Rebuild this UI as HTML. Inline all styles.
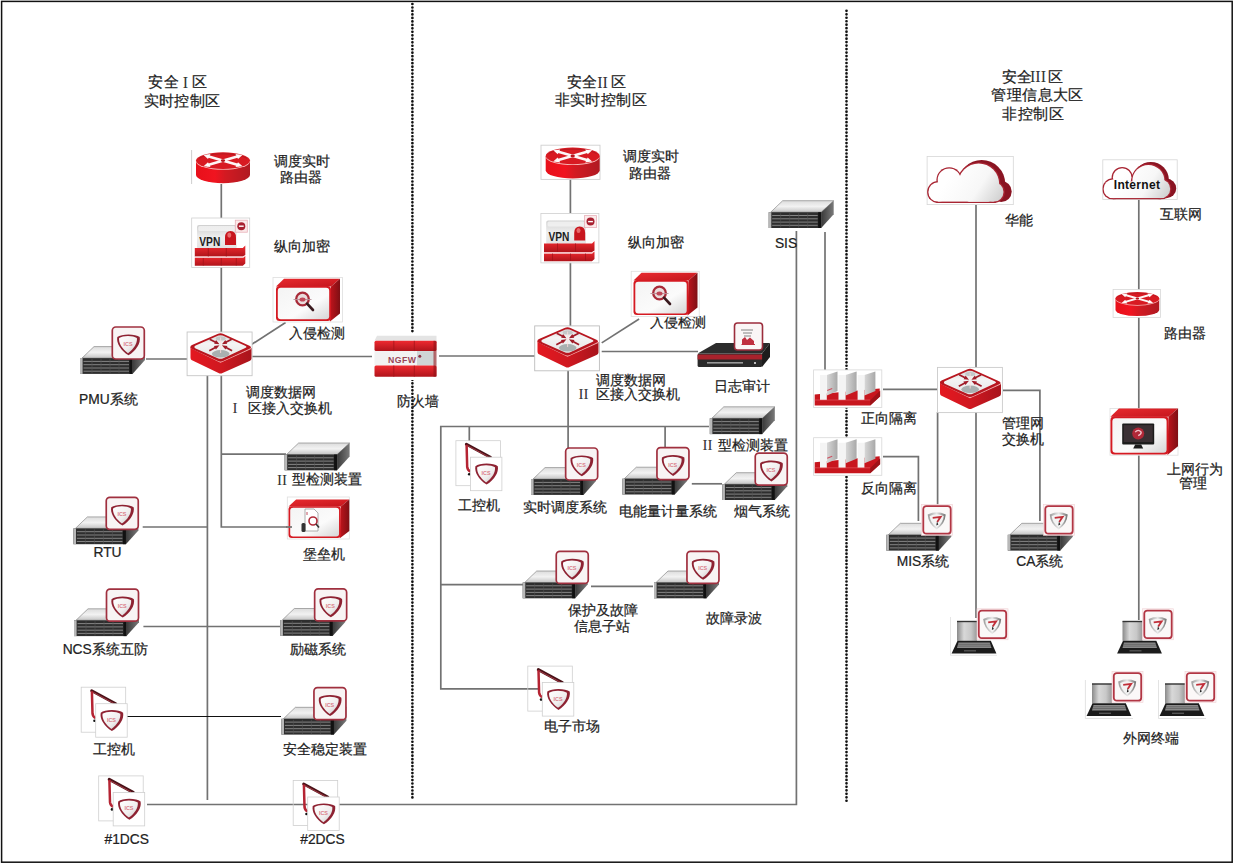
<!DOCTYPE html>
<html><head><meta charset="utf-8"><title>安全分区网络拓扑</title>
<style>
html,body{margin:0;padding:0;background:#fff;}
body{width:1234px;height:864px;overflow:hidden;font-family:"Liberation Sans", sans-serif;}
svg{display:block;}
svg text{font-family:"Liberation Sans", sans-serif;}
.lb{stroke:#222;stroke-width:0.22px;}
</style></head><body>
<svg width="1234" height="864" viewBox="0 0 1234 864">
<defs>
<linearGradient id="gRed" x1="0" y1="0" x2="1" y2="0">
 <stop offset="0" stop-color="#e5161e"/><stop offset="0.55" stop-color="#d01820"/><stop offset="1" stop-color="#a5141a"/></linearGradient>
<linearGradient id="gRedV" x1="0" y1="0" x2="0" y2="1">
 <stop offset="0" stop-color="#ee2a30"/><stop offset="1" stop-color="#b0141b"/></linearGradient>
<linearGradient id="gRedTop" x1="0" y1="0" x2="1" y2="1">
 <stop offset="0" stop-color="#e82a2f"/><stop offset="1" stop-color="#c4161d"/></linearGradient>
<linearGradient id="gDarkRed" x1="0" y1="0" x2="1" y2="0">
 <stop offset="0" stop-color="#c0141c"/><stop offset="1" stop-color="#7e0f14"/></linearGradient>
<linearGradient id="gSrvTop" x1="0" y1="0" x2="0" y2="1">
 <stop offset="0" stop-color="#dcdcdc"/><stop offset="0.5" stop-color="#f2f2f2"/><stop offset="1" stop-color="#c4c4c4"/></linearGradient>
<linearGradient id="gSrvSide" x1="0" y1="0" x2="1" y2="0">
 <stop offset="0" stop-color="#3a3a3a"/><stop offset="1" stop-color="#7a7a7a"/></linearGradient>
<linearGradient id="gFace" x1="0" y1="0" x2="1" y2="1">
 <stop offset="0" stop-color="#f4f4f4"/><stop offset="0.6" stop-color="#fbfbfb"/><stop offset="1" stop-color="#d6d6d6"/></linearGradient>
<linearGradient id="gCard" x1="0" y1="0" x2="0" y2="1">
 <stop offset="0" stop-color="#d0d0d0"/><stop offset="0.5" stop-color="#eeeeee"/><stop offset="1" stop-color="#e2e2e2"/></linearGradient>
<linearGradient id="gShieldIn" x1="0" y1="0" x2="1" y2="1">
 <stop offset="0" stop-color="#ffffff"/><stop offset="0.6" stop-color="#f0eeee"/><stop offset="1" stop-color="#c8c4c4"/></linearGradient>
<linearGradient id="gScreen" x1="0" y1="0" x2="1" y2="0">
 <stop offset="0" stop-color="#8a8a8a"/><stop offset="0.35" stop-color="#d8d8d8"/><stop offset="0.7" stop-color="#c8c8c8"/><stop offset="1" stop-color="#9a9a9a"/></linearGradient>
<linearGradient id="gPillar" x1="0" y1="0" x2="1" y2="0">
 <stop offset="0" stop-color="#d8d8d8"/><stop offset="1" stop-color="#a8a8a8"/></linearGradient>
<linearGradient id="gCloud" x1="0" y1="0" x2="1" y2="1">
 <stop offset="0" stop-color="#ffffff"/><stop offset="0.6" stop-color="#f8f8f8"/><stop offset="1" stop-color="#d0d0d0"/></linearGradient>
<linearGradient id="gSilver" x1="0" y1="0" x2="1" y2="0">
 <stop offset="0" stop-color="#9a9a9a"/><stop offset="0.5" stop-color="#e8e8e8"/><stop offset="1" stop-color="#707070"/></linearGradient>

<linearGradient id="gRouterSide" x1="0" y1="0" x2="1" y2="0">
 <stop offset="0" stop-color="#e8101a"/><stop offset="0.35" stop-color="#f01420"/><stop offset="0.55" stop-color="#d21a22"/><stop offset="1" stop-color="#b01a22"/></linearGradient>
<g id="router">
 <path d="M0,8.3 L0,22.6 A27,8.3 0 0 0 54,22.6 L54,8.3 Z" fill="url(#gRouterSide)"/>
 <ellipse cx="27" cy="9.2" rx="27" ry="8.3" fill="#f7b4b4"/>
 <ellipse cx="27" cy="8.3" rx="27" ry="8.3" fill="#d81a22"/>
 <path d="M3,6 A27,8.3 0 0 1 51,6" fill="none" stroke="#9a1820" stroke-width="0.8" opacity="0.7"/>
 <g stroke="#fff" stroke-width="2.6" opacity="0.96">
  <path d="M11,3.6 L43,13"/><path d="M11,13 L43,3.6"/>
 </g>
 <g fill="#fff" opacity="0.96">
  <path d="M7.5,2.6 L14.5,1.8 L12,6.6 Z"/><path d="M46.5,14 L39.5,14.8 L42,10 Z"/>
  <path d="M46.5,2.6 L39.5,1.8 L42,6.6 Z"/><path d="M7.5,14 L14.5,14.8 L12,10 Z"/>
 </g>
 <ellipse cx="27" cy="8.3" rx="2.2" ry="1.4" fill="#b8141c"/>
</g>
<linearGradient id="gSwSide" x1="0" y1="0" x2="1" y2="0">
 <stop offset="0" stop-color="#e41820"/><stop offset="0.5" stop-color="#d01820"/><stop offset="1" stop-color="#a8141c"/></linearGradient>
<linearGradient id="gSwIn" x1="0" y1="0" x2="0" y2="1">
 <stop offset="0" stop-color="#d8d8d8"/><stop offset="0.35" stop-color="#f4f4f4"/><stop offset="1" stop-color="#e6e6e6"/></linearGradient>
<g id="switch">
 <path d="M1,14 L31,28.5 L62,15 L62,25.5 Q62,27 60,28 L33,40 Q31,41 29,40 L2,27 Q1,26 1,24.5 Z" fill="url(#gSwSide)"/>
 <path d="M1.5,14.8 L31,29.2 L61.5,15.6" fill="none" stroke="#f7b0b0" stroke-width="1.1"/>
 <path d="M1,14 Q0.5,13 2.5,12 L28,0.9 Q31,-0.2 34,0.9 L60.5,13 Q62.5,14.3 60.5,15.6 L34,27.8 Q31,29 28,27.8 L2.5,16 Q0.5,15 1,14 Z" fill="#b8161f"/>
 <path d="M5,14 Q4.5,13.2 6.2,12.4 L28.8,2.6 Q31,1.8 33.2,2.6 L56.2,13 Q58,13.9 56.2,14.8 L33.2,25.4 Q31,26.3 28.8,25.4 L6.2,15.6 Q4.5,14.8 5,14 Z" fill="url(#gSwIn)"/>
 <ellipse cx="31.2" cy="20.8" rx="8.8" ry="3.7" fill="#a9b0b0"/>
 <ellipse cx="31.2" cy="5.6" rx="5" ry="2" fill="#c4c8c8"/>
 <g fill="#a01c28">
  <path d="M19.80,7.10 L25.19,9.80 L24.65,10.87 L30.00,11.20 L26.53,7.12 L25.99,8.19 L20.60,5.50 Z"/>
  <path d="M20.23,18.59 L25.84,15.51 L26.42,16.56 L30.00,12.20 L24.40,12.88 L24.98,13.93 L19.37,17.01 Z"/>
  <path d="M41.80,5.50 L36.41,8.19 L35.87,7.12 L32.40,11.20 L37.75,10.87 L37.21,9.80 L42.60,7.10 Z"/>
  <path d="M43.03,17.01 L37.42,13.93 L38.00,12.88 L32.40,12.20 L35.98,16.56 L36.56,15.51 L42.17,18.59 Z"/>
 </g>
 <path d="M31.15,4.5 V20" stroke="#ffdede" stroke-width="0.9" opacity="0.9"/>
</g>
<g id="server">
 <path d="M2,12 L14,0.5 L65,0.5 L52.5,12 Z" fill="url(#gSrvTop)" stroke="#777" stroke-width="0.6"/>
 <path d="M52.5,12 L65,0.5 L65,14 L52.5,27.8 Z" fill="url(#gSrvSide)"/>
 <rect x="0" y="12" width="52.5" height="15.8" fill="#2e2e2e"/>
 <rect x="0" y="12" width="2.6" height="15.8" fill="#b8b8b8"/>
 <rect x="49.5" y="12" width="3" height="15.8" fill="#111"/>
 <g stroke="#9a9a9a" stroke-width="0.8">
  <path d="M3.5,15.3 H49 M3.5,18.6 H49 M3.5,21.9 H49 M3.5,25.1 H49"/>
 </g>
 <g stroke="#555" stroke-width="0.6">
  <path d="M12,13 V27.3 M21,13 V27.3 M30,13 V27.3 M39,13 V27.3"/>
 </g>
</g>
<g id="shieldics">
 <path d="M0,3.5 C4,0 18.4,0 22.4,3.5 C23.6,9.5 19,17 11.2,21.8 C3.4,17 -1.2,9.5 0,3.5 Z" fill="#8e2232"/>
 <path d="M1.8,4.6 C5.6,1.9 15.8,1.9 19.6,4.6 C20.2,9.6 16.6,15.6 10.7,19.7 C4.8,15.6 1.2,9.6 1.8,4.6 Z" fill="url(#gShieldIn)"/>
 <text x="10.7" y="12.6" font-size="5.4" opacity="0.7" font-family='"Liberation Sans", sans-serif' font-weight="bold" fill="#d04a5a" text-anchor="middle">ICS</text>
</g>
<g id="badge">
 <rect x="1" y="1" width="32" height="32" rx="3.5" fill="#f8f4f4" stroke="#a0303f" stroke-width="1.7"/>
 <use href="#shieldics" x="6" y="7.5"/>
</g>
<g id="shieldsec">
 <path d="M0,3 Q9,-1.5 18,3 Q17.5,12 9,18 Q0.5,12 0,3 Z" fill="url(#gSilver)"/>
 <path d="M2,4.3 Q9,1.2 16,4.3 Q15.5,11 9,15.8 Q2.5,11 2,4.3 Z" fill="#f4f4f4"/>
 <path d="M5,6.2 L13,5.2 L9.5,10.5" fill="none" stroke="#c0303a" stroke-width="1.8"/>
 <path d="M9.3,10 L8.6,13.8 L10.6,13" fill="#222"/>
</g>
<g id="badge2">
 <rect x="0" y="0" width="31" height="31" fill="#fbf3f4" stroke="#f0d0d4" stroke-width="0.6"/>
 <rect x="1.8" y="1.8" width="27.4" height="27.6" rx="3" fill="#fbf8f8" stroke="#b23644" stroke-width="1.8"/>
 <use href="#shieldsec" x="6.2" y="7.3"/>
</g>
<g id="ws">
 <rect x="0.5" y="0.5" width="44.5" height="45" fill="none" stroke="#cfcfcf" stroke-width="0.8"/>
 <path d="M11,4 L35,17" stroke="#4a1218" stroke-width="3" stroke-linecap="round"/>
 <path d="M12.5,5.6 L33,16.6" stroke="#c84a58" stroke-width="0.7"/>
 <path d="M11.2,4.5 L11.8,27 Q12.2,30 15,31.5" fill="none" stroke="#b52433" stroke-width="2.5"/>
 <circle cx="13.8" cy="34" r="1.3" fill="#111"/>
 <rect x="15" y="17" width="31.5" height="33.5" fill="#fff" stroke="#cfcfcf" stroke-width="0.8"/>
 <use href="#shieldics" x="20" y="22.5"/>
</g>
<g id="fw">
 <path d="M0,4.6 L2.5,-0.5 L62,-0.5 L62,4.6 Z" fill="#e4e4e4"/>
 <rect x="0" y="4.6" width="62" height="10.3" rx="1.5" fill="url(#gRedV)"/>
 <rect x="0" y="14.9" width="62" height="14.4" fill="#f2f2f2"/>
 <rect x="42.5" y="14.9" width="17.5" height="14.4" fill="#cfd5d5"/>
 <rect x="0" y="29.3" width="62" height="11.2" rx="1.5" fill="url(#gRedV)"/>
 <rect x="59" y="4.6" width="3" height="36" fill="#8e1218" opacity="0.6"/>
 <g stroke="#a31419" stroke-width="0.8"><path d="M19.3,4.6 V14.9 M39.8,4.6 V14.9 M19.3,29.3 V40.5 M39.8,29.3 V40.5"/></g>
 <text x="13.5" y="26.6" font-size="8.7" font-weight="bold" fill="#9a4456" letter-spacing="0.5">NGFW</text>
 <circle cx="45.3" cy="20" r="1.5" fill="#8e3244"/>
</g>
<g id="box">
 <path d="M3,9 L11,1.3 L67,1.3 L58,9 Z" fill="url(#gRedTop)"/>
 <path d="M58,9 L67,1.3 L67,36 L57,44 Z" fill="url(#gDarkRed)"/>
 <rect x="3" y="8.6" width="55" height="35" rx="3.5" fill="#d51a22"/>
 <rect x="4.8" y="10.3" width="51.4" height="31.6" rx="3" fill="url(#gFace)"/>
</g>
<g id="magnifier">
 <circle cx="0" cy="0" r="6.3" fill="#eadcdc" stroke="#a82a38" stroke-width="2.3"/>
 <path d="M4.6,4.6 L10.5,11" stroke="#3a1a1e" stroke-width="2.6" stroke-linecap="round"/>
 <path d="M-9,0.5 H9" stroke="#b89098" stroke-width="0.9"/>
 <ellipse cx="0" cy="0.5" rx="3" ry="2" fill="#c04858"/>
</g>
<g id="logdev">
 <path d="M0.6,31.5 L19,21 L73,21 L65,31.5 Z" fill="#2c2c2c"/>
 <path d="M65,31.5 L73,21 L73,35 L65,45 Z" fill="#1c1c1c"/>
 <rect x="0.6" y="31.5" width="64.5" height="13.5" rx="1.5" fill="#2a2a2a"/>
 <rect x="0.6" y="32.5" width="64.5" height="5" fill="#a8222c"/>
 <rect x="10" y="40" width="36" height="1.6" fill="#9a9a9a"/>
 <circle cx="58" cy="41" r="1" fill="#eee"/>
 <rect x="37.5" y="1" width="28" height="27" rx="3" fill="#faf6f6" stroke="#9c2d3c" stroke-width="1.6"/>
 <g stroke="#777" stroke-width="0.9"><path d="M44,8 H56 M46,11 H55 M47,14 H54"/></g>
 <path d="M45,22 V17.5 L48,15 L50,18 L53,15.5 L57,19 V22 Z" fill="#c03040"/>
 <path d="M44.5,22.5 H58" stroke="#c03040" stroke-width="1"/>
</g>
<g id="iso">
 <rect x="0.4" y="0.4" width="68.2" height="37.6" fill="#fff" stroke="#d8d8d8" stroke-width="0.8"/>
 <path d="M1.5,30.5 L1.5,25 L66.5,19 L66.5,27 L57,36 L1.5,36 Z" fill="#c8161e"/>
 <path d="M57,31 L67,21 L67,27 L57,36 Z" fill="#9e1218"/>
 <g>
  <path d="M13.6,5.5 L24.3,2 L24.3,21.5 L13.6,26 Z" fill="url(#gPillar)"/>
  <rect x="6.8" y="5.5" width="6.8" height="25" fill="#f4f4f4"/>
  <path d="M32.4,5.5 L43.4,2 L43.4,21.5 L32.4,26 Z" fill="url(#gPillar)"/>
  <rect x="25.3" y="5.5" width="7.1" height="25" fill="#f4f4f4"/>
  <path d="M51.2,5.5 L62.2,2 L62.2,21.5 L51.2,26 Z" fill="url(#gPillar)"/>
  <rect x="44.4" y="5.5" width="6.8" height="25" fill="#f4f4f4"/>
 </g>
 <path d="M1.5,30.5 H57" stroke="#e86068" stroke-width="0.6"/>
 <path d="M14,21 L19,19" stroke="#d05060" stroke-width="1.2"/>
</g><clipPath id="cloudClip"><rect x="0" y="0" width="87" height="47.099999999999994"/></clipPath>
<clipPath id="cloudClip2"><rect x="0" y="0" width="87" height="45.8"/></clipPath>
<linearGradient id="cloudGrad" gradientUnits="userSpaceOnUse" x1="26.099999999999998" y1="14.7" x2="73.95" y2="45.8"><stop offset="0" stop-color="#ffffff"/><stop offset="0.55" stop-color="#f7f7f7"/><stop offset="1" stop-color="#cfcfcf"/></linearGradient>
<g id="cloud">
 <rect x="0.4" y="0.4" width="86.2" height="48.2" fill="#fff" stroke="#d6d6d6" stroke-width="0.8"/>
 <g clip-path="url(#cloudClip)">
 <circle cx="55" cy="27.5" r="23.5" fill="#8a1422"/>
 <circle cx="74.5" cy="35.5" r="10.5" fill="#8a1422"/>
 <circle cx="11.5" cy="36" r="11.100000000000001" fill="#a82432"/>
 <circle cx="22.5" cy="24" r="12.8" fill="#a82432"/>
 <circle cx="52" cy="28" r="21.8" fill="#a82432"/>
 <circle cx="67" cy="36" r="11.100000000000001" fill="#a82432"/>
 <rect x="11.5" y="28" width="55.5" height="19.099999999999998" fill="#a82432"/>
 <g fill="url(#cloudGrad)" clip-path="url(#cloudClip2)">
  <circle cx="11.5" cy="36" r="9.8"/>
  <circle cx="22.5" cy="24" r="11.5"/>
  <circle cx="52" cy="28" r="20.5"/>
  <circle cx="67" cy="36" r="9.8"/>
  <rect x="11.5" y="28" width="55.5" height="17.799999999999997"/>
 </g></g>
</g><clipPath id="icloudClip"><rect x="0" y="0" width="75.2" height="40.099999999999994"/></clipPath>
<clipPath id="icloudClip2"><rect x="0" y="0" width="75.2" height="38.8"/></clipPath>
<linearGradient id="icloudGrad" gradientUnits="userSpaceOnUse" x1="22.56" y1="12.18" x2="63.92" y2="38.8"><stop offset="0" stop-color="#ffffff"/><stop offset="0.55" stop-color="#f7f7f7"/><stop offset="1" stop-color="#cfcfcf"/></linearGradient>
<g id="icloud">
 <rect x="0.4" y="0.4" width="74.4" height="39.800000000000004" fill="#fff" stroke="#d6d6d6" stroke-width="0.8"/>
 <g clip-path="url(#icloudClip)">
 <circle cx="48.5" cy="20.5" r="18" fill="#8a1422"/>
 <circle cx="64" cy="29" r="9.8" fill="#8a1422"/>
 <circle cx="10.5" cy="29.5" r="10.600000000000001" fill="#a82432"/>
 <circle cx="19.8" cy="18.2" r="10.600000000000001" fill="#a82432"/>
 <circle cx="46" cy="21.5" r="17.3" fill="#a82432"/>
 <circle cx="58.5" cy="29.5" r="10.600000000000001" fill="#a82432"/>
 <rect x="10.5" y="22" width="48.0" height="18.099999999999998" fill="#a82432"/>
 <g fill="url(#icloudGrad)" clip-path="url(#icloudClip2)">
  <circle cx="10.5" cy="29.5" r="9.3"/>
  <circle cx="19.8" cy="18.2" r="9.3"/>
  <circle cx="46" cy="21.5" r="16"/>
  <circle cx="58.5" cy="29.5" r="9.3"/>
  <rect x="10.5" y="22" width="48.0" height="16.799999999999997"/>
 </g></g>
<text x="34.6" y="30" font-size="12" font-weight="bold" letter-spacing="0.3" font-family='"Liberation Sans", sans-serif' fill="#111" text-anchor="middle">Internet</text>
</g>
<g id="laptop">
 <rect x="7" y="12.8" width="20" height="19.5" fill="url(#gScreen)"/>
 <rect x="7" y="12.3" width="20" height="1.4" fill="#333"/>
 <path d="M7.5,32.3 L40.8,32.3 L46.4,45 L1.6,45 Z" fill="#1b1b1b"/>
 <path d="M8.5,34 L39.8,34 L41.5,39.5 L7,39.5 Z" fill="#8c8c8c"/>
 <g stroke="#444" stroke-width="0.5"><path d="M8,35.8 H40.5 M7.6,37.6 H41"/></g>
 <rect x="14" y="41.6" width="12" height="1.4" fill="#555"/>
 <use href="#badge2" x="27" y="0.3"/>
</g>
<g id="vpn">
 <rect x="0.4" y="0.4" width="58" height="49.5" fill="#fff" stroke="#cfcfcf" stroke-width="0.8"/>
 <rect x="5.7" y="7.4" width="39.7" height="24" rx="2" fill="url(#gCard)"/>
 <rect x="7" y="8.4" width="37" height="5" rx="1.5" fill="#f4f4f4" opacity="0.8"/>
 <text x="8" y="28" font-size="12" font-weight="bold" font-family='"Liberation Sans", sans-serif' fill="#1e1e1e" textLength="21" lengthAdjust="spacingAndGlyphs">VPN</text>
 <path d="M33.7,27.4 V20 Q33.7,13.4 39.2,13.4 Q44.7,13.4 44.7,20 V27.4 Z" fill="#c8161e"/>
 <ellipse cx="38" cy="17.5" rx="2" ry="2.6" fill="#f08080" opacity="0.8"/>
 <path d="M3.5,30.4 H51.5 L54,28 V37.5 L51.5,39 H3.5 Z" fill="url(#gRedV)"/>
 <path d="M3.5,40.5 H51.5 L54,38.5 V46 L51.5,48.2 H3.5 Z" fill="url(#gRedV)"/>
 <path d="M3.5,39.7 H52" stroke="#f3c0c4" stroke-width="1.5"/>
 <g stroke="#9e1218" stroke-width="0.7"><path d="M17,30.4 V39 M35,30.4 V39 M12,40.5 V48 M30,40.5 V48 M45,40.5 V48"/></g>
 <rect x="44" y="2.6" width="12" height="12" fill="#fbeaea" stroke="#e8b0b8" stroke-width="0.8"/>
 <circle cx="50" cy="8.6" r="4" fill="#a82030"/>
 <rect x="47.6" y="7.9" width="4.8" height="1.4" fill="#fff"/>
</g></defs>
<rect width="1234" height="864" fill="#fff"/>
<rect x="1.6" y="1.4" width="1230.6" height="860.8" fill="none" stroke="#111" stroke-width="1.5"/>
<line x1="412.4" y1="4" x2="412.4" y2="797.5" stroke="#111" stroke-width="2.7" stroke-linecap="round" stroke-dasharray="0 3.48"/>
<line x1="846.5" y1="10.8" x2="846.5" y2="803.5" stroke="#111" stroke-width="2.7" stroke-linecap="round" stroke-dasharray="0 3.48"/>
<path d="M221.3,184 L221.3,218" fill="none" stroke="#727272" stroke-width="1.7"/>
<path d="M221.3,267 L221.3,333" fill="none" stroke="#727272" stroke-width="1.7"/>
<path d="M249.2,346 L285.6,322.5" fill="none" stroke="#727272" stroke-width="1.7"/>
<path d="M146,359 L188,359" fill="none" stroke="#727272" stroke-width="1.7"/>
<path d="M252,356.5 L377,356.5" fill="none" stroke="#727272" stroke-width="1.7"/>
<path d="M207.4,375 L207.4,800" fill="none" stroke="#727272" stroke-width="1.7"/>
<path d="M221.3,375 L221.3,527 L293,527" fill="none" stroke="#727272" stroke-width="1.7"/>
<path d="M221.3,454.2 L286,454.2" fill="none" stroke="#727272" stroke-width="1.7"/>
<path d="M142.7,527 L207.4,527" fill="none" stroke="#727272" stroke-width="1.7"/>
<path d="M143.4,626.5 L280,626.5" fill="none" stroke="#727272" stroke-width="1.7"/>
<path d="M125,716.5 L281,716.5" fill="none" stroke="#111" stroke-width="1"/>
<path d="M147,804.5 L796.4,804.5 L796.4,231" fill="none" stroke="#727272" stroke-width="1.7"/>
<path d="M439,356 L535,356" fill="none" stroke="#727272" stroke-width="1.7"/>
<path d="M570.4,179 L570.4,213" fill="none" stroke="#727272" stroke-width="1.7"/>
<path d="M570.4,262 L570.4,326" fill="none" stroke="#727272" stroke-width="1.7"/>
<path d="M601.7,342.9 L639.1,319" fill="none" stroke="#727272" stroke-width="1.7"/>
<path d="M601.7,351.5 L698,351.5" fill="none" stroke="#727272" stroke-width="1.7"/>
<path d="M568.1,370 L568.1,448" fill="none" stroke="#727272" stroke-width="1.7"/>
<path d="M709,426.5 L440.8,426.5 L440.8,688.8 L538.5,688.8" fill="none" stroke="#727272" stroke-width="1.7"/>
<path d="M469.3,426.5 L469.3,441" fill="none" stroke="#727272" stroke-width="1.7"/>
<path d="M665.1,426.5 L665.1,448" fill="none" stroke="#727272" stroke-width="1.7"/>
<path d="M691.8,483.8 L722,483.8" fill="none" stroke="#727272" stroke-width="1.7"/>
<path d="M440.8,584.7 L524,584.7" fill="none" stroke="#727272" stroke-width="1.7"/>
<path d="M591,586.3 L653,586.3" fill="none" stroke="#727272" stroke-width="1.7"/>
<path d="M825,231.9 L825,370" fill="none" stroke="#727272" stroke-width="1.7"/>
<path d="M976,204.6 L976,368" fill="none" stroke="#727272" stroke-width="1.7"/>
<path d="M976,412 L976,618" fill="none" stroke="#727272" stroke-width="1.7"/>
<path d="M937.6,412 L937.6,505" fill="none" stroke="#727272" stroke-width="1.7"/>
<path d="M883,389.4 L938,389.4" fill="none" stroke="#727272" stroke-width="1.7"/>
<path d="M883,456.6 L918.4,456.6 L918.4,521" fill="none" stroke="#727272" stroke-width="1.7"/>
<path d="M1003,390.4 L1039.9,390.4 L1039.9,521" fill="none" stroke="#727272" stroke-width="1.7"/>
<path d="M1138.8,199.6 L1138.8,290" fill="none" stroke="#727272" stroke-width="1.7"/>
<path d="M1138.8,317 L1138.8,409" fill="none" stroke="#727272" stroke-width="1.7"/>
<path d="M1138.8,455 L1138.8,620" fill="none" stroke="#727272" stroke-width="1.7"/>
<line x1="191.6" y1="150" x2="191.6" y2="184" stroke="#c8c8c8" stroke-width="0.9"/>
<use href="#router" x="196" y="152.3" />
<use href="#vpn" x="191.3" y="217.6" />
<rect x="273" y="277.4" width="69.5" height="44.6" fill="#fff" stroke="#dedede" stroke-width="0.8"/>
<use href="#box" x="273" y="277.4" />
<use href="#magnifier" x="302.5" y="299" />
<rect x="187.1" y="332" width="65" height="43.7" fill="#fff" stroke="#c6c6c6" stroke-width="0.9"/>
<use href="#switch" x="189.5" y="333" />
<use href="#server" x="80" y="346.1" />
<use href="#badge" x="111.3" y="326.0" />
<use href="#server" x="284.6" y="442.5" />
<rect x="287.3" y="497" width="62" height="42" fill="#fff" stroke="#dedede" stroke-width="0.8"/>
<g transform="translate(285.65,498.3) scale(0.95,0.91)"><use href="#box"/></g>
<path d="M286,527 L292,527" fill="none" stroke="#727272" stroke-width="1.7"/>
<g transform="translate(303,509)"><path d="M2,0 H11 L15,4 V22 H2 Z" fill="#fff" stroke="#999" stroke-width="0.8"/><circle cx="10" cy="12" r="4" fill="none" stroke="#b02a38" stroke-width="1.6"/><path d="M13,15 L16,18.5" stroke="#333" stroke-width="1.6"/><rect x="-1.5" y="14" width="4" height="9" rx="1.5" fill="#333"/><path d="M4,3 V6" stroke="#c05060" stroke-width="1"/></g>
<use href="#server" x="73.4" y="516.4" />
<use href="#badge" x="105.25" y="496.3" />
<use href="#server" x="74" y="608.3" />
<use href="#badge" x="105.5" y="588.2" />
<use href="#server" x="280.3" y="608" />
<use href="#badge" x="313.65" y="587.9" />
<use href="#ws" x="80.7" y="686.7" />
<use href="#server" x="281.4" y="706.8" />
<use href="#badge" x="312.95" y="686.7" />
<use href="#ws" x="98.2" y="775.4" />
<use href="#ws" x="292.7" y="780" />
<rect x="372" y="333" width="66" height="47" fill="#fff"/>
<use href="#fw" x="374.5" y="336.2" />
<rect x="541" y="145.2" width="59" height="34.2" fill="#fff" stroke="#cfcfcf" stroke-width="0.9"/>
<use href="#router" x="545.7" y="147.6" />
<use href="#vpn" x="540.5" y="213" />
<rect x="534.7" y="325.9" width="64.7" height="44.9" fill="#fff" stroke="#bdbdbd" stroke-width="0.9"/>
<use href="#switch" x="536.5" y="327" />
<use href="#logdev" x="697" y="322" />
<use href="#server" x="709.8" y="406.3" />
<use href="#ws" x="455.4" y="440.2" />
<use href="#server" x="531" y="467.1" />
<use href="#badge" x="564.65" y="447.0" />
<use href="#server" x="622.3" y="466.7" />
<use href="#badge" x="655.95" y="446.6" />
<use href="#server" x="722.3" y="472.2" />
<use href="#badge" x="754.25" y="452.1" />
<use href="#server" x="522.7" y="570.5" />
<use href="#badge" x="555.25" y="550.4" />
<use href="#server" x="654" y="570.5" />
<use href="#badge" x="685.95" y="550.4" />
<use href="#ws" x="527.3" y="665.6" />
<use href="#server" x="768.7" y="200.2" />
<use href="#iso" x="813.2" y="369.5" />
<use href="#iso" x="813.2" y="437.3" />
<use href="#cloud" x="926.7" y="156" />
<use href="#icloud" x="1102.4" y="159.4" />
<rect x="1113.1" y="289.5" width="47.4" height="27.9" fill="#fff" stroke="#d8d8d8" stroke-width="0.8"/>
<g transform="translate(1115.5,292) scale(0.81,0.78)"><use href="#router"/></g>
<rect x="937.5" y="367.4" width="64.9" height="45.2" fill="#fff" stroke="#cacaca" stroke-width="0.9"/>
<use href="#switch" x="939" y="368.5" />
<rect x="1110" y="408.4" width="68" height="46.8" fill="#fff" stroke="#dedede" stroke-width="0.8"/>
<g transform="translate(1107.3,407) scale(1.055,1.09)"><use href="#box"/></g>
<g transform="translate(1122.2,423.6)"><rect x="0" y="0" width="32" height="21" rx="1" fill="#1c1c1c"/><rect x="1.5" y="1.5" width="29" height="17" fill="#3a3034"/><circle cx="16" cy="10" r="6" fill="#b02838"/><path d="M13,8.5 Q16,5 19,8.5 Q19,11 16,12" fill="none" stroke="#f0c0c8" stroke-width="1.4"/><path d="M13,21 H19 L21,25 H11 Z" fill="#1c1c1c"/></g>
<use href="#server" x="886.3" y="522.8" />
<use href="#badge2" x="921.5" y="504.3" />
<use href="#server" x="1007.8" y="522.8" />
<use href="#badge2" x="1043.5" y="504.3" />
<path d="M950.5,617 V655.3 H997" fill="none" stroke="#e0e0e0" stroke-width="0.8"/>
<use href="#laptop" x="950" y="608.5" />
<use href="#laptop" x="1115.5" y="608.5" />
<path d="M1085.4,680 V718.5 H1133" fill="none" stroke="#dcdcdc" stroke-width="0.8"/>
<use href="#laptop" x="1085" y="671" />
<path d="M1158.5,680 V718.5 H1206" fill="none" stroke="#dcdcdc" stroke-width="0.8"/>
<use href="#laptop" x="1158" y="671" />
<text class="lb" x="148.2" y="87.3" font-size="14.5" letter-spacing="0.45" text-anchor="start" fill="#222">安全</text>
<text x="185.5" y="87.6" font-size="16" text-anchor="middle" fill="#333" style="font-family:'Liberation Serif',serif">I</text>
<text class="lb" x="192" y="87.3" font-size="14.5" letter-spacing="0.45" text-anchor="start" fill="#222">区</text>
<text class="lb" x="143.6" y="106.2" font-size="14.5" letter-spacing="0.45" text-anchor="start" fill="#222">实时控制区</text>
<text class="lb" x="566.5" y="87.3" font-size="14.5" letter-spacing="0.45" text-anchor="start" fill="#222">安全</text>
<text x="602.5" y="87.6" font-size="16" text-anchor="middle" fill="#333" style="font-family:'Liberation Serif',serif">II</text>
<text class="lb" x="610.5" y="87.3" font-size="14.5" letter-spacing="0.45" text-anchor="start" fill="#222">区</text>
<text class="lb" x="554.6" y="105.3" font-size="14.5" letter-spacing="0.45" text-anchor="start" fill="#222">非实时控制区</text>
<text class="lb" x="1002" y="81.9" font-size="14.5" letter-spacing="0.45" text-anchor="start" fill="#222">安全</text>
<text x="1038" y="82.2" font-size="16" text-anchor="middle" fill="#333" style="font-family:'Liberation Serif',serif">III</text>
<text class="lb" x="1047.8" y="81.9" font-size="14.5" letter-spacing="0.45" text-anchor="start" fill="#222">区</text>
<text class="lb" x="991.2" y="99.9" font-size="14.5" letter-spacing="0.45" text-anchor="start" fill="#222">管理信息大区</text>
<text class="lb" x="1002.4" y="118.9" font-size="14.5" letter-spacing="0.45" text-anchor="start" fill="#222">非控制区</text>
<text class="lb" x="302.2" y="166.3" font-size="13.8" text-anchor="middle" fill="#222">调度实时</text>
<text class="lb" x="300.7" y="181.5" font-size="13.8" text-anchor="middle" fill="#222">路由器</text>
<text class="lb" x="302.3" y="251.4" font-size="13.8" text-anchor="middle" fill="#222">纵向加密</text>
<text class="lb" x="317.3" y="338.4" font-size="13.8" text-anchor="middle" fill="#222">入侵检测</text>
<text class="lb" x="108.3" y="403.6" font-size="13.8" text-anchor="middle" fill="#222">PMU系统</text>
<text class="lb" x="280.8" y="396.5" font-size="13.8" text-anchor="middle" fill="#222">调度数据网</text>
<text x="235.1" y="413.0" font-size="15" text-anchor="middle" fill="#333" style="font-family:'Liberation Serif',serif">I</text>
<text class="lb" x="247.6" y="412.7" font-size="13.8" text-anchor="start" fill="#222">区接入交换机</text>
<text class="lb" x="417.6" y="405.9" font-size="13.8" text-anchor="middle" fill="#222">防火墙</text>
<text x="282" y="484.6" font-size="15" text-anchor="middle" fill="#333" style="font-family:'Liberation Serif',serif">II</text>
<text class="lb" x="292.2" y="484.3" font-size="13.8" text-anchor="start" fill="#222">型检测装置</text>
<text class="lb" x="107.5" y="556.6" font-size="13.8" text-anchor="middle" fill="#222">RTU</text>
<text class="lb" x="324.2" y="558.7" font-size="13.8" text-anchor="middle" fill="#222">堡垒机</text>
<text class="lb" x="105.2" y="654.2" font-size="13.8" text-anchor="middle" fill="#222">NCS系统五防</text>
<text class="lb" x="317.8" y="654.2" font-size="13.8" text-anchor="middle" fill="#222">励磁系统</text>
<text class="lb" x="113.8" y="753.7" font-size="13.8" text-anchor="middle" fill="#222">工控机</text>
<text class="lb" x="324.5" y="753.7" font-size="13.8" text-anchor="middle" fill="#222">安全稳定装置</text>
<text class="lb" x="126.7" y="844.2" font-size="13.8" text-anchor="middle" fill="#222">#1DCS</text>
<text class="lb" x="322.5" y="844.2" font-size="13.8" text-anchor="middle" fill="#222">#2DCS</text>
<text class="lb" x="651.1" y="160.7" font-size="13.8" text-anchor="middle" fill="#222">调度实时</text>
<text class="lb" x="650.4" y="177.8" font-size="13.8" text-anchor="middle" fill="#222">路由器</text>
<text class="lb" x="655.9" y="247.1" font-size="13.8" text-anchor="middle" fill="#222">纵向加密</text>
<text class="lb" x="630.6" y="385.4" font-size="13.8" text-anchor="middle" fill="#222">调度数据网</text>
<text x="583.5" y="399.3" font-size="15" text-anchor="middle" fill="#333" style="font-family:'Liberation Serif',serif">II</text>
<text class="lb" x="596.2" y="399.0" font-size="13.8" text-anchor="start" fill="#222">区接入交换机</text>
<text class="lb" x="741.8" y="391.0" font-size="13.8" text-anchor="middle" fill="#222">日志审计</text>
<text x="707.5" y="449.8" font-size="15" text-anchor="middle" fill="#333" style="font-family:'Liberation Serif',serif">II</text>
<text class="lb" x="718.2" y="449.5" font-size="13.8" text-anchor="start" fill="#222">型检测装置</text>
<text class="lb" x="478.5" y="510.0" font-size="13.8" text-anchor="middle" fill="#222">工控机</text>
<text class="lb" x="564.6" y="512.3" font-size="13.8" text-anchor="middle" fill="#222">实时调度系统</text>
<text class="lb" x="667.5" y="515.9" font-size="13.8" text-anchor="middle" fill="#222">电能量计量系统</text>
<text class="lb" x="762.4" y="515.9" font-size="13.8" text-anchor="middle" fill="#222">烟气系统</text>
<text class="lb" x="602.7" y="615.0" font-size="13.8" text-anchor="middle" fill="#222">保护及故障</text>
<text class="lb" x="601.6" y="630.9" font-size="13.8" text-anchor="middle" fill="#222">信息子站</text>
<text class="lb" x="733.5" y="622.9" font-size="13.8" text-anchor="middle" fill="#222">故障录波</text>
<text class="lb" x="572.3" y="731.3" font-size="13.8" text-anchor="middle" fill="#222">电子市场</text>
<text class="lb" x="677.9" y="326.5" font-size="13.8" text-anchor="middle" fill="#222">入侵检测</text>
<text class="lb" x="786" y="248.1" font-size="13.8" text-anchor="middle" fill="#222">SIS</text>
<text class="lb" x="1019" y="225.0" font-size="13.8" text-anchor="middle" fill="#222">华能</text>
<text class="lb" x="1181.1" y="218.7" font-size="13.8" text-anchor="middle" fill="#222">互联网</text>
<text class="lb" x="1185.4" y="337.9" font-size="13.8" text-anchor="middle" fill="#222">路由器</text>
<text class="lb" x="889.4" y="422.8" font-size="13.8" text-anchor="middle" fill="#222">正向隔离</text>
<text class="lb" x="889.4" y="492.5" font-size="13.8" text-anchor="middle" fill="#222">反向隔离</text>
<text class="lb" x="1022.8" y="427.7" font-size="13.8" text-anchor="middle" fill="#222">管理网</text>
<text class="lb" x="1022.8" y="443.7" font-size="13.8" text-anchor="middle" fill="#222">交换机</text>
<text class="lb" x="1194.5" y="474.4" font-size="13.8" text-anchor="middle" fill="#222">上网行为</text>
<text class="lb" x="1192.6" y="488.3" font-size="13.8" text-anchor="middle" fill="#222">管理</text>
<text class="lb" x="923" y="565.8" font-size="13.8" text-anchor="middle" fill="#222">MIS系统</text>
<text class="lb" x="1039.8" y="565.8" font-size="13.8" text-anchor="middle" fill="#222">CA系统</text>
<text class="lb" x="1150.9" y="743.2" font-size="13.8" text-anchor="middle" fill="#222">外网终端</text>
<rect x="631.2" y="271.3" width="68" height="45.3" fill="#fff" stroke="#dedede" stroke-width="0.8"/>
<use href="#box" x="630.5" y="271.5" />
<use href="#magnifier" x="659.5" y="293" />
</svg>
</body></html>
